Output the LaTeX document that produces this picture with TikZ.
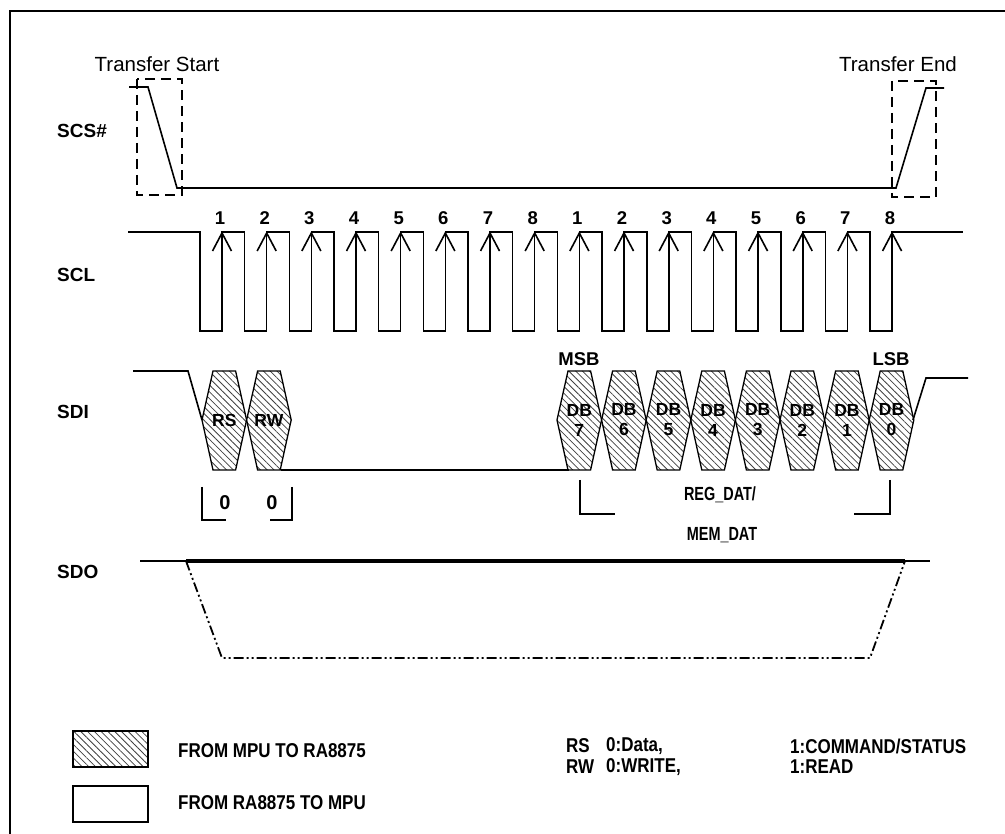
\documentclass[tikz,border=0pt]{standalone}
\usepackage{fontspec}
\setmainfont{Liberation Sans}
\newfontfamily\narrowfont[FakeStretch=0.85]{Liberation Sans}
\newfontfamily\condfont[FakeStretch=0.76]{Liberation Sans}
\usetikzlibrary{patterns.meta}
\newcommand\myhex[3]{%
  \draw[hatchfill] (#1,420) -- ({#1+11},371) -- ({#1+33.6},371) -- ({#1+44.6},420) -- ({#1+33.6},470) -- ({#1+11},470) -- cycle;
  \node[hexlabel] (#2) at ({#1+22.3},420) {#3};}
\begin{document}
\begin{tikzpicture}[x=1pt,y=-1pt,line join=miter,
  wave/.style={line width=1.6pt},
  dbox/.style={line width=1.5pt,dash pattern=on 10pt off 6pt},
  sig/.style={font=\fontsize{19}{22}\selectfont\bfseries,anchor=west,inner sep=0pt},
  num/.style={font=\fontsize{18.5}{20}\selectfont\bfseries,inner sep=0pt},
  plain/.style={font=\fontsize{20.5}{23}\selectfont,inner sep=0pt},
  narrow/.style={font=\narrowfont\fontsize{20}{23}\selectfont\bfseries,inner sep=0pt},
  cond/.style={font=\condfont\fontsize{19}{22}\selectfont\bfseries,inner sep=0pt},
  hatchfill/.style={draw,line width=1.3pt,pattern={Lines[angle=-45,distance=4.8pt,line width=0.8pt]},pattern color=black!75},
  hexlabel/.style={font=\fontsize{17.5}{20}\selectfont\bfseries,align=center,inner sep=0pt}]
\useasboundingbox (0,0) rectangle (1005,834);
% frame
\draw[line width=2pt] (10,834) -- (10,11) -- (1005,11);
% signal names
\node[sig] (lscs) at (57,131) {SCS\#};
\node[sig] (lscl) at (57,275) {SCL};
\node[sig] (lsdi) at (57,412) {SDI};
\node[sig] (lsdo) at (57,572) {SDO};
% SCS#
\node[plain] (tstart) at (157,64) {Transfer Start};
\node[plain] (tend) at (898,64) {Transfer End};
\draw[wave] (129,87) -- (148,87) -- (177,188) -- (896,188) -- (926,88) -- (944,88);
\draw[dbox] (137,79) rectangle (182,195);
\draw[dbox] (892,81) rectangle (936,197);
% SCL
\draw[wave] (128,232) foreach \k in {0,...,15} {
  -- ({222+44.67*\k-22},232) -- ({222+44.67*\k-22},331) -- ({222+44.67*\k},331) -- ({222+44.67*\k},232) } -- (963,232);
\foreach \k/\n in {0/1,1/2,2/3,3/4,4/5,5/6,6/7,7/8,8/1,9/2,10/3,11/4,12/5,13/6,14/7,15/8}{
  \draw[wave] ({222+44.67*\k-9.5},251) -- ({222+44.67*\k},233) -- ({222+44.67*\k+9.5},251);
  \node[num] (n\k) at ({222+44.67*\k-2},218) {\n};
}
% SDI
\draw[wave] (133,371) -- (188,371) -- (202,420);
\draw[wave] (281,470) -- (569,470);
\draw[wave] (913,420) -- (926,378) -- (968,378);
\myhex{202}{rs}{RS}
\myhex{246.6}{rw}{RW}
\foreach \i/\d in {0/7,1/6,2/5,3/4,4/3,5/2,6/1,7/0}{
  \myhex{557+44.6*\i}{db\d}{DB\\\d}
}
\node[num] (msb) at (579,359) {MSB};
\node[num] (lsb) at (891,359) {LSB};
% brackets
\draw[wave] (202,487) -- (202,520) -- (226,520);
\draw[wave] (292,487) -- (292,520) -- (270,520);
\node[sig,anchor=center,font=\fontsize{20}{22}\selectfont\bfseries] (z1) at (225,503) {0};
\node[sig,anchor=center,font=\fontsize{20}{22}\selectfont\bfseries] (z2) at (272,503) {0};
\draw[wave] (580,480) -- (580,514) -- (615,514);
\draw[wave] (890,480) -- (890,514) -- (854,514);
\node[cond] (reg) at (720,495) {REG\_DAT/};
\node[cond] (mem) at (722,535) {MEM\_DAT};
% SDO
\draw[wave] (140,561) -- (186,561);
\draw[line width=3.8pt] (186,561) -- (905,561);
\draw[wave] (905,561) -- (930,561);
\draw[line width=1.8pt,dash pattern=on 10pt off 3pt on 2pt off 3pt on 2pt off 3pt] (186,561) -- (222,658) -- (870,658) -- (905,561);
% legend
\draw[hatchfill] (73,731) rectangle (148,767);
\draw[wave] (73,786) rectangle (148,822);
\node[narrow,anchor=west] (l1) at (178,751) {FROM MPU TO RA8875};
\node[narrow,anchor=west] (l2) at (178,803) {FROM RA8875 TO MPU};
\node[narrow,anchor=west] (r1a) at (566,746) {RS};
\node[narrow,anchor=west] (r1b) at (606,746) {0:Data,};
\node[narrow,anchor=west] (r1c) at (790,746) {1:COMMAND/STATUS};
\node[narrow,anchor=west] (r2a) at (566,767) {RW};
\node[narrow,anchor=west] (r2b) at (606,767) {0:WRITE,};
\node[narrow,anchor=west] (r2c) at (790,767) {1:READ};
\end{tikzpicture}
\end{document}
